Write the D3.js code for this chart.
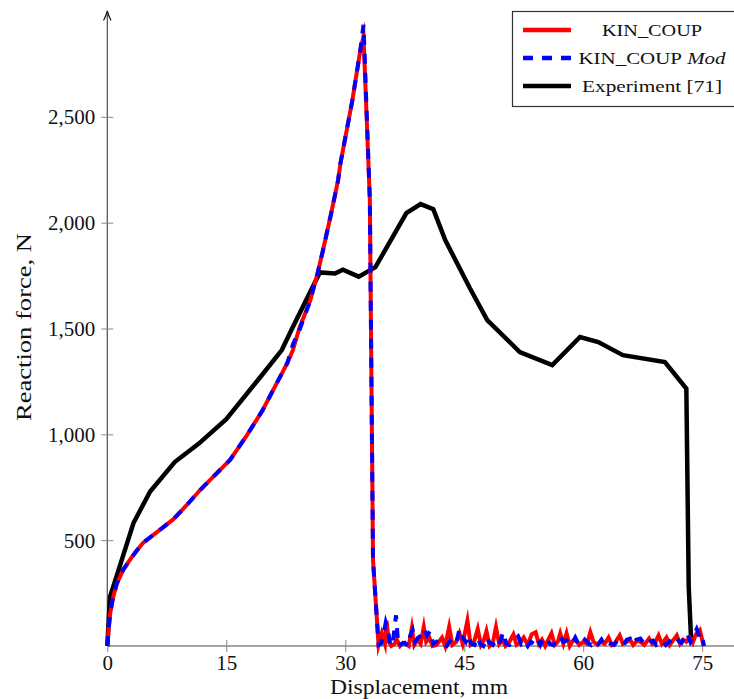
<!DOCTYPE html>
<html>
<head>
<meta charset="utf-8">
<script src="https://cdn.jsdelivr.net/npm/d3@7"></script>
<style>
  html, body { margin: 0; padding: 0; background: #fff; }
  svg { display: block; font-family: "Liberation Serif", "Times New Roman", serif; }
</style>
</head>
<body>
<svg id="chart" width="734" height="699"></svg>
<script>
// ---- data ----
const xTicks = [0, 15, 30, 45, 60, 75];
const yTicks = [500, 1000, 1500, 2000, 2500];

// loading branch of the simulations (shared displacements)
const simX  = [0, 0.15, 0.35, 0.7, 1.2, 2.0, 3.0, 3.7, 4.5, 6.5, 8.3, 10.0, 11.7, 13.5, 15.5, 17.5, 19.6, 21.2, 22.7, 23.4, 24.2, 25.6, 26.5, 27.2, 28.2, 29.1, 29.4, 30.2, 30.9, 31.9, 32.3, 33.1, 33.5, 34.2];
const redY  = [0, 70, 150, 225, 295, 360, 415, 450, 487, 545, 598, 665, 737, 805, 880, 990, 1115, 1230, 1337, 1398, 1500, 1634, 1760, 1871, 2040, 2201, 2282, 2440, 2579, 2815, 2880, 2107, 406, 5];
const blueY = [0, 70, 150, 225, 295, 360, 415, 450, 487, 545, 598, 665, 737, 805, 880, 990, 1115, 1230, 1337, 1425, 1490, 1634, 1760, 1871, 2040, 2201, 2282, 2440, 2579, 2815, 2935, 2107, 406, 5];

// post-failure noise
const redNoiseX = [34.6, 35.0, 35.2, 35.5, 35.8, 36.2, 36.5, 36.9, 37.3, 37.6, 38.0, 38.4, 38.7, 39.1, 39.5, 39.9, 40.2, 40.6, 41.0, 41.5, 42.2, 42.6, 43.1, 43.5, 44.0, 44.4, 44.8, 45.4, 45.8, 46.2, 46.7, 47.1, 47.5, 47.8, 48.2, 48.6, 49.0, 49.4, 49.8, 50.2, 50.7, 51.2, 51.6, 52.0, 52.5, 53.0, 53.5, 54.0, 54.4, 54.8, 55.2, 55.6, 56.0, 56.4, 56.8, 57.1, 57.5, 57.9, 58.3, 58.6, 59.0, 59.5, 60.0, 60.5, 60.9, 61.3, 61.8, 62.2, 62.7, 63.2, 63.6, 64.0, 64.6, 65.0, 65.5, 65.9, 66.3, 66.8, 67.2, 67.7, 68.3, 68.7, 69.1, 69.5, 69.9, 70.5, 70.9, 71.3, 71.8, 72.2, 72.6, 73.0, 73.4, 73.8, 74.2, 74.7, 75.0, 75.2];
const redNoiseY = [60, 10, 120, 20, 0, 10, 30, 0, 15, 10, 0, 85, 5, 30, 10, 90, 20, 40, 0, 5, 40, 0, 90, 5, 20, 60, 10, 120, 5, 15, 80, 5, 30, 70, 0, 15, 90, 10, 30, 0, 20, 55, 5, 15, 40, 5, 55, 65, 10, 30, 0, 30, 60, 5, 20, 60, 10, 60, 0, 20, 30, 5, 20, 10, 65, 20, 5, 20, 10, 40, 5, 15, 50, 10, 20, 30, 5, 25, 20, 5, 35, 10, 20, 50, 10, 40, 5, 25, 50, 10, 30, 20, 40, 15, 55, 75, 30, 0];
const blueNoiseX = [34.5, 34.8, 35.1, 35.4, 35.7, 36.0, 36.4, 36.7, 37.1, 37.5, 37.9, 38.2, 38.5, 38.8, 39.2, 39.6, 39.9, 40.3, 40.7, 41.1, 41.5, 41.9, 42.4, 42.8, 43.2, 43.6, 44.0, 44.4, 44.8, 45.2, 45.5, 45.9, 46.3, 46.7, 47.0, 47.4, 47.8, 48.2, 48.6, 49.0, 49.4, 49.9, 50.3, 50.7, 51.1, 51.8, 52.2, 52.6, 53.0, 53.4, 53.8, 54.2, 54.6, 55.0, 55.4, 55.8, 56.2, 56.6, 57.1, 57.5, 57.9, 58.3, 58.7, 59.0, 59.4, 59.8, 60.2, 60.6, 61.0, 61.4, 61.9, 62.3, 62.7, 63.1, 63.5, 63.9, 64.3, 64.7, 65.1, 65.5, 65.9, 66.3, 66.7, 67.2, 67.6, 68.0, 68.4, 68.8, 69.2, 69.6, 70.0, 70.4, 70.8, 71.2, 71.6, 72.0, 72.4, 72.8, 73.1, 73.5, 73.9, 74.3, 74.7, 75.0, 75.2];
const blueNoiseY = [10, 50, 110, 70, 0, 15, 145, 0, 10, 15, 0, 50, 75, 20, 40, 50, 80, 50, 70, 10, 20, 5, 10, 0, 25, 5, 15, 80, 40, 20, 50, 10, 5, 40, 10, 0, 40, 15, 5, 25, 5, 65, 10, 5, 20, 45, 10, 25, 0, 20, 10, 35, 5, 35, 40, 10, 5, 20, 45, 20, 25, 5, 20, 40, 10, 5, 30, 15, 5, 25, 10, 30, 5, 20, 10, 5, 25, 10, 5, 30, 35, 10, 30, 35, 15, 5, 20, 25, 5, 15, 25, 5, 20, 30, 10, 25, 15, 45, 60, 20, 50, 80, 40, 50, 0];

// experiment
const expX = [0, 0.35, 3.3, 5.4, 8.5, 11.5, 15.0, 19.3, 22.0, 23.3, 26.8, 28.7, 29.7, 31.7, 33.8, 37.7, 39.5, 41.1, 42.6, 45.7, 47.9, 52.0, 56.1, 59.6, 61.9, 65.0, 70.3, 73.0, 73.3, 73.6];
const expY = [0, 233, 581, 730, 869, 955, 1072, 1271, 1398, 1500, 1765, 1760, 1778, 1745, 1790, 2045, 2088, 2064, 1918, 1691, 1540, 1389, 1327, 1460, 1436, 1374, 1341, 1216, 280, 30];

const seriesNames = ["KIN_COUP", "KIN_COUP", "Experiment [71]"];

// ---- chart ----
const svg = d3.select("#chart");
const x = d3.scaleLinear().domain([0, 75]).range([107.3, 702.2]);
const y = d3.scaleLinear().domain([0, 3000]).range([646, 11]);

const line = d3.line().x(d => x(d[0])).y(d => y(d[1]));
const zip = (xs, ys) => xs.map((v, i) => [v, ys[i]]);

const redData = zip(simX, redY).concat(zip(redNoiseX, redNoiseY));
const blueData = zip(simX, blueY).concat(zip(blueNoiseX, blueNoiseY));
const expData = zip(expX, expY);

// axes
const axisColor = "#4d4d4d";
svg.append("line").attr("x1", x(0)).attr("x2", 745).attr("y1", y(0)).attr("y2", y(0))
  .attr("stroke", axisColor).attr("stroke-width", 1.2);
svg.append("line").attr("x1", x(0)).attr("x2", x(0)).attr("y1", y(0)).attr("y2", 14)
  .attr("stroke", axisColor).attr("stroke-width", 1.2);
// arrow head
svg.append("path")
  .attr("d", `M${x(0)-3.5},${20} Q${x(0)-1},${15} ${x(0)},${11} Q${x(0)+1},${15} ${x(0)+3.5},${20}`)
  .attr("fill", "none").attr("stroke", "#111").attr("stroke-width", 1.2).attr("stroke-linecap", "round");

const xAxis = d3.axisBottom(x).tickValues(xTicks).tickSize(0).tickFormat(d3.format("d"));
const yAxis = d3.axisLeft(y).tickValues(yTicks).tickSize(0).tickFormat(d3.format(","));

const gx = svg.append("g").attr("transform", `translate(0,${y(0)})`).call(xAxis);
gx.select(".domain").remove();
gx.selectAll(".tick text").attr("dy", null).attr("y", 24).attr("font-size", 21)
  .attr("font-family", "Liberation Serif").attr("fill", "#111");
gx.selectAll(".tick").append("line").attr("y1", -6).attr("y2", 6).attr("stroke", "#888").attr("stroke-width", 1);

const gy = svg.append("g").attr("transform", `translate(${x(0)},0)`).call(yAxis);
gy.select(".domain").remove();
gy.selectAll(".tick text").attr("x", -12).attr("dy", "0.34em").attr("font-size", 21)
  .attr("font-family", "Liberation Serif").attr("fill", "#111");
gy.selectAll(".tick").append("line").attr("x1", -6).attr("x2", 6).attr("stroke", "#888").attr("stroke-width", 1);

// series (experiment drawn underneath the simulations)
svg.append("path").datum(expData).attr("d", line)
  .attr("fill", "none").attr("stroke", "#000").attr("stroke-width", 4.5)
  .attr("stroke-linejoin", "miter").attr("stroke-miterlimit", 10);
svg.append("path").datum(redData).attr("d", line)
  .attr("fill", "none").attr("stroke", "#ff0000").attr("stroke-width", 4)
  .attr("stroke-linejoin", "miter").attr("stroke-miterlimit", 10);
svg.append("path").datum(blueData).attr("d", line)
  .attr("fill", "none").attr("stroke", "#0000ff").attr("stroke-width", 4)
  .attr("stroke-dasharray", "10,9")
  .attr("stroke-linejoin", "miter").attr("stroke-miterlimit", 10);

// axis titles
svg.append("text").attr("x", 419).attr("y", 694).attr("text-anchor", "middle")
  .attr("font-size", 21).attr("fill", "#111")
  .attr("textLength", 178).attr("lengthAdjust", "spacingAndGlyphs")
  .text("Displacement, mm");
svg.append("text").attr("transform", "translate(31,327) rotate(-90)").attr("text-anchor", "middle")
  .attr("font-size", 21).attr("fill", "#111")
  .attr("textLength", 188).attr("lengthAdjust", "spacingAndGlyphs")
  .text("Reaction force, N");

// legend
const lg = svg.append("g");
lg.append("rect").attr("x", 512.5).attr("y", 11.5).attr("width", 240).attr("height", 95)
  .attr("fill", "#fff").attr("stroke", "#333").attr("stroke-width", 1.2);
const rows = [
  {y: 30, color: "#ff0000", dash: null, label: seriesNames[0], w: 100},
  {y: 58, color: "#0000ff", dash: "10,9", label: seriesNames[1], w: 147, mod: true},
  {y: 86, color: "#000", dash: null, label: seriesNames[2], w: 140}
];
rows.forEach(r => {
  lg.append("line").attr("x1", 523).attr("x2", 571).attr("y1", r.y).attr("y2", r.y)
    .attr("stroke", r.color).attr("stroke-width", 4.5)
    .attr("stroke-dasharray", r.dash);
  const t = lg.append("text").attr("x", 652).attr("y", r.y + 6).attr("text-anchor", "middle")
    .attr("font-size", 17).attr("fill", "#111")
    .attr("textLength", r.w).attr("lengthAdjust", "spacingAndGlyphs");
  t.append("tspan").text(r.label);
  if (r.mod) t.append("tspan").attr("font-style", "italic").text(" Mod");
});
</script>
</body>
</html>
